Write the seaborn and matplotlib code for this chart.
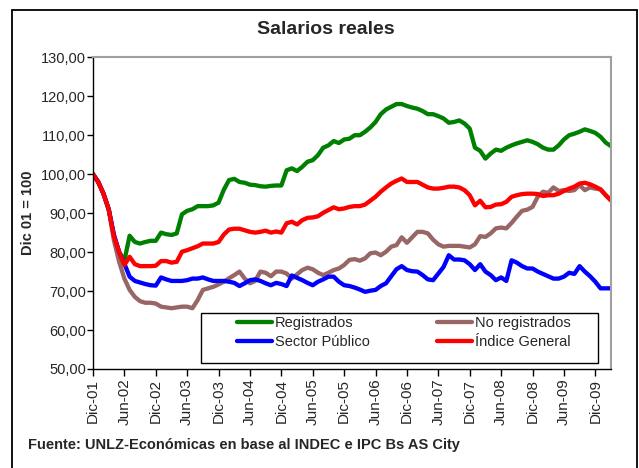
import pandas as pd
import seaborn as sns
import matplotlib.pyplot as plt
from matplotlib.patches import Rectangle
from matplotlib.ticker import FuncFormatter

# meses Dic-01 .. Mar-10 (100 puntos)
registrados = [100, 98, 95, 91, 84, 80, 77.8, 84.2, 82.6, 82.2, 82.6, 82.9, 82.9, 85, 84.6, 84.4, 84.8, 89.7, 90.6, 91,
               91.8, 91.8, 91.8, 92, 92.7, 96, 98.5, 98.8, 98, 97.8, 97.3, 97.2, 96.9, 96.8, 97, 97.1, 97.1, 101, 101.5, 100.8,
               101.9, 103.2, 103.6, 104.9, 106.8, 107.4, 108.5, 108, 108.9, 109.1, 110, 110, 110.9, 112, 113.4, 115.4, 116.6, 117.3, 118, 118,
               117.5, 117.1, 116.8, 116.2, 115.4, 115.4, 114.9, 114.3, 113.2, 113.4, 113.8, 113, 111.7, 106.8, 106, 104, 105.3, 106.3, 106, 106.8,
               107.4, 107.9, 108.3, 108.7, 108.3, 107.7, 106.8, 106.3, 106.3, 107.4, 108.9, 110, 110.4, 110.9, 111.5, 111.1, 110.6, 109.6, 108.1, 107.2]
no_registrados = [100, 98, 95, 91, 83, 77.5, 73.2, 70.3, 68.5, 67.4, 67, 67, 66.8, 66, 65.8, 65.6, 65.8, 66, 66, 65.6,
                  67.7, 70.3, 70.7, 71.1, 71.7, 72.4, 73.3, 74.1, 75, 73.2, 72, 72.6, 75, 74.7, 73.8, 75, 75, 74.5, 73.2, 74.3,
                  75.4, 76, 75.6, 74.7, 74.1, 74.7, 75.4, 75.8, 76.7, 78, 78.2, 77.8, 78.4, 79.7, 79.9, 79.2, 80.1, 81.4, 81.8, 83.8,
                  82.4, 83.8, 85.2, 85.2, 84.8, 83.2, 82, 81.4, 81.6, 81.6, 81.6, 81.4, 81.2, 82, 84.1, 83.9, 84.8, 86.1, 86.3, 86.1,
                  87.5, 89.1, 90.6, 90.9, 91.6, 94.2, 95.5, 95.2, 96.6, 95.7, 95.9, 95.7, 95.9, 97.2, 95.9, 96.6, 96.3, 96.1, 94.6, 93.2]
sector_publico = [100, 98, 95, 91, 84.5, 80, 77, 73.7, 72.6, 72.2, 71.8, 71.5, 71.4, 73.5, 73, 72.6, 72.6, 72.6, 72.8, 73.2,
                  73.2, 73.5, 73, 72.6, 72.6, 72.6, 72.4, 72.1, 71.3, 72, 72.8, 73, 72.6, 72, 71.5, 72.1, 71.8, 71.3, 74, 73.4,
                  72.8, 72.1, 71.5, 72.4, 73, 73.7, 73.7, 72.4, 71.5, 71.3, 70.9, 70.4, 69.8, 70.1, 70.3, 71.3, 72, 73.8, 75.6, 76.4,
                  75.4, 75.1, 75, 74.1, 73, 72.8, 74.5, 76.2, 79.2, 78.1, 78.1, 77.9, 76.9, 75.4, 76.9, 75, 74.1, 72.8, 73.5, 72.6,
                  77.9, 77.3, 76.4, 75.8, 75.8, 75, 74.4, 73.8, 73.2, 73.2, 73.7, 74.7, 74.4, 76.4, 75, 73.8, 72.4, 70.7, 70.7, 70.7]
indice_general = [100, 98, 95, 91, 84, 80, 76.7, 78.8, 76.9, 76.4, 76.4, 76.4, 76.5, 77.7, 77.7, 77.3, 77.5, 80.1, 80.5, 81,
                  81.5, 82.2, 82.2, 82.2, 82.6, 84.5, 85.8, 86, 86, 85.6, 85.2, 85, 85.2, 85.5, 85, 85.3, 85, 87.4, 87.8, 87.1,
                  88.2, 88.8, 88.9, 89.2, 90.1, 90.8, 91.5, 91, 91.2, 91.6, 91.8, 91.8, 92.2, 93.2, 94.2, 95.5, 96.6, 97.6, 98.3, 98.9,
                  98, 98, 98, 97.3, 96.6, 96.3, 96.3, 96.5, 96.8, 96.8, 96.6, 95.9, 94.6, 92, 93.2, 91.5, 91.6, 92.2, 92.3, 92.9,
                  94.2, 94.6, 94.9, 95, 95, 94.9, 94.4, 94.6, 94.6, 95, 95.7, 96.3, 96.8, 97.6, 97.8, 97.4, 96.8, 96.1, 94.6, 93.3]

tick_labels = ['Dic-01', 'Jun-02', 'Dic-02', 'Jun-03', 'Dic-03', 'Jun-04', 'Dic-04', 'Jun-05', 'Dic-05',
               'Jun-06', 'Dic-06', 'Jun-07', 'Dic-07', 'Jun-08', 'Dic-08', 'Jun-09', 'Dic-09']

series = {
    'Registrados': (registrados, '#008000'),
    'No registrados': (no_registrados, '#996666'),
    'Sector Público': (sector_publico, '#0000FF'),
    'Índice General': (indice_general, '#FF0000'),
}

sns.set_style('white')
plt.rcParams['font.family'] = ['Liberation Sans', 'DejaVu Sans']

fig = plt.figure(figsize=(6.39, 4.68), dpi=100)
ax = fig.add_axes([93 / 639, 1 - 369 / 468, (611 - 93) / 639, (369 - 57.3) / 468])

handles = {}
for name, (vals, color) in series.items():
    df = pd.DataFrame({'mes': range(len(vals)), 'valor': vals})
    sns.lineplot(data=df, x='mes', y='valor', color=color, lw=3.1, ax=ax, label=name)
    handles[name] = ax.lines[-1]

ax.set_xlim(0, len(registrados) - 1)
ax.set_ylim(50, 130)
ax.set_yticks(range(50, 131, 10))
ax.yaxis.set_major_formatter(FuncFormatter(lambda v, p: f'{v:.2f}'.replace('.', ',')))
ax.set_xticks(range(0, 6 * len(tick_labels), 6))
ax.set_xticklabels(tick_labels, rotation=90, fontsize=11)
ax.tick_params(axis='y', labelsize=10.5, length=4, width=1, color='black', pad=1, direction='out', left=True)
ax.tick_params(axis='x', length=5, width=1, color='black', pad=2, direction='out', bottom=True)
ax.set_xlabel('')
ax.set_ylabel('Dic 01 = 100', fontsize=10.5, fontweight='bold', labelpad=4)
for s in ['left', 'bottom']:
    ax.spines[s].set_color('black')
    ax.spines[s].set_linewidth(1)
for s in ['top', 'right']:
    ax.spines[s].set_color('#a0a0a0')
    ax.spines[s].set_linewidth(1.5)

# leyenda: caja propia + entradas sin marco
ax.get_legend().remove()
order = ['Registrados', 'Sector Público', 'No registrados', 'Índice General']
fig.patches.append(Rectangle((201 / 639, 1 - 362.7 / 468), 396.5 / 639, 50 / 468,
                             transform=fig.transFigure, facecolor='white', edgecolor='black', lw=1, zorder=5))
leg = fig.legend([handles[n] for n in order], order, loc='upper left',
                 bbox_to_anchor=(237 / 639, 1 - 316 / 468), ncol=2, frameon=False,
                 fontsize=10.5, handlelength=2.4, handletextpad=0.2, columnspacing=4.6,
                 labelspacing=0.35, borderpad=0, borderaxespad=0)
leg.set_zorder(6)

fig.suptitle('Salarios reales', x=326 / 639, y=1 - 21 / 468, fontsize=14, fontweight='bold', va='top')
fig.text(28 / 639, 1 - 445 / 468, 'Fuente: UNLZ-Económicas en base al INDEC e IPC Bs AS City',
         fontsize=10.5, fontweight='bold', va='center', ha='left')
fig.patches.append(Rectangle((12 / 639, -0.1), 625 / 639, 1.1 - 10 / 468, transform=fig.transFigure,
                             fill=False, edgecolor='black', lw=1.3))

fig.savefig('out.png', dpi=100)
